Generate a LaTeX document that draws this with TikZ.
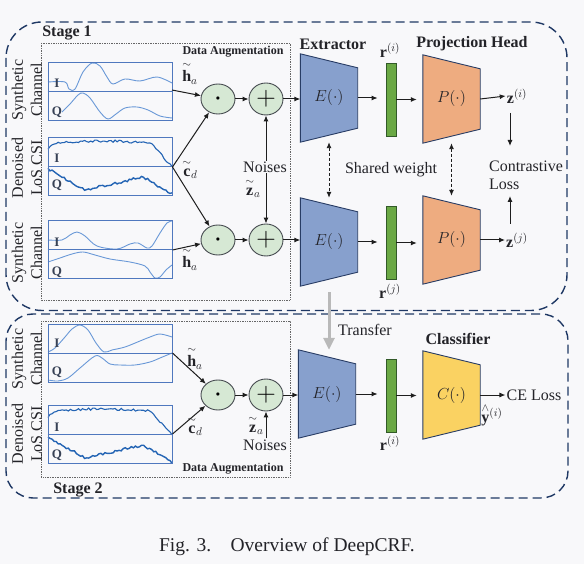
\RequirePackage{fix-cm}
\documentclass[tikz,border=0pt]{standalone}
\usepackage{amsmath}
\usepackage{fontspec}
\setmainfont{Liberation Serif}
\usetikzlibrary{shapes.geometric,arrows.meta,calc}
\definecolor{bgc}{RGB}{248,248,250}
\definecolor{navy}{RGB}{31,56,100}
\definecolor{boxblue}{RGB}{79,120,190}
\definecolor{wave}{RGB}{105,152,215}
\definecolor{wavedark}{RGB}{35,100,180}
\definecolor{extc}{RGB}{135,160,205}
\definecolor{projc}{RGB}{238,172,128}
\definecolor{clsc}{RGB}{250,210,98}
\definecolor{barg}{RGB}{106,168,68}
\definecolor{bargline}{RGB}{50,90,40}
\definecolor{circ}{RGB}{214,232,212}
\definecolor{circline}{RGB}{70,75,80}
\definecolor{trapline}{RGB}{40,60,100}
\definecolor{txtc}{RGB}{35,35,40}
\definecolor{iqc}{RGB}{55,65,85}
\definecolor{arrc}{RGB}{30,30,30}
\newcommand{\trapz}[2]{\draw[draw=trapline, fill=#2, line width=0.9pt] (#1.north west) -- ([yshift=-14pt]#1.north east) -- ([yshift=14pt]#1.south east) -- (#1.south west) -- cycle;}
\newcommand{\tld}[1]{\overset{\sim}{\mathbf{#1}}}
\begin{document}
\begin{tikzpicture}[x=1pt,y=-1pt,
  >={Latex[length=6pt,width=5pt]},
  txt/.style={font=\fontsize{16}{18}\selectfont, text=txtc, inner sep=1pt},
  mlab/.style={font=\fontsize{16}{18}\selectfont, text=txtc, inner sep=0pt},
  bld/.style={font=\bfseries\fontsize{16}{18}\selectfont, text=txtc, inner sep=1pt},
  sig/.style={draw=boxblue, line width=1pt, minimum width=124pt, minimum height=58pt, inner sep=0pt},
  wv/.style={draw=wave, line width=0.9pt},
  wvd/.style={draw=wavedark, line width=1.4pt},
  iq/.style={font=\bfseries\fontsize{13}{13}\selectfont, text=iqc, inner sep=0pt},
  opc/.style={ellipse, draw=circline, fill=circ, line width=0.9pt, minimum width=34pt, minimum height=30pt, inner sep=0pt},
  arr/.style={->, line width=1pt, draw=arrc},
  trbox/.style={inner sep=0pt, minimum width=57pt, minimum height=88pt},
  barbox/.style={draw=bargline, fill=barg, line width=0.8pt, minimum width=10pt, minimum height=73pt, inner sep=0pt},
  stagebox/.style={draw=navy, dash pattern=on 9pt off 5pt, line width=1.4pt},
  augbox/.style={draw=gray!80!black, densely dotted, line width=0.7pt},
  rot/.style={rotate=90, align=center, font=\fontsize{16}{19}\selectfont, text=txtc, inner sep=0pt},
  shared/.style={<->, line width=0.9pt, draw=arrc, dash pattern=on 3pt off 2pt},
  transfer/.style={-{Triangle[length=12pt,width=11pt]}, line width=3pt, draw=gray!55}
]
\fill[bgc] (0,0) rectangle (584,564);
\useasboundingbox (0,0) rectangle (584,564);

% stage frames
\draw[stagebox, rounded corners=36pt] (6,22) rectangle (567,310.5);
\draw[stagebox, rounded corners=27pt] (6,314) rectangle (568,498);
\node[bld] (st1) at (67,33) {Stage 1};
\node[bld] (st2) at (78,490) {Stage 2};

% augmentation frames
\draw[augbox] (41,43) rectangle (290,300);
\draw[augbox] (41,321) rectangle (290,477);
\node[font=\bfseries\fontsize{12}{12}\selectfont, text=txtc, inner sep=0pt] (da1) at (233,52) {Data Augmentation};
\node[font=\bfseries\fontsize{12}{12}\selectfont, text=txtc, inner sep=0pt] (da2) at (233,469) {Data Augmentation};

% waveforms
\draw[wv] plot[smooth, tension=0.55] coordinates {(48,82) (65,82) (69,89) (75,89) (83,72) (92,63) (100,66) (107,77) (113,84) (125,79) (140,81) (157,77) (172,83)};
\draw[wv] plot[smooth, tension=0.55] coordinates {(62,112) (70,104) (78,95) (83,93) (90,98) (100,112) (108,119) (116,114) (125,108) (137,107) (148,110) (160,116) (172,118)};
\draw[wv] plot[smooth, tension=0.55] coordinates {(48,240) (62,240) (70,235) (77,232) (85,236) (97,246) (117,249) (130,244) (138,243) (147,248) (152,246) (160,233) (167,223) (172,221)};
\draw[wv] plot[smooth, tension=0.55] coordinates {(48,262) (60,258) (72,254) (83,252) (95,255) (110,259) (130,262) (145,266) (150,272) (155,278) (160,277) (166,270) (172,265)};
\draw[wv] plot[smooth, tension=0.55] coordinates {(48,352) (55,348) (65,337) (72,329) (80,325) (88,330) (96,343) (104,352) (112,350) (125,347) (140,341) (150,337) (160,334) (172,337)};
\draw[wv] plot[smooth, tension=0.55] coordinates {(48,380) (58,381) (68,378) (80,368) (95,356) (102,358) (110,364) (120,365) (135,365) (150,362) (160,358) (172,353)};
\pgfmathsetseed{7}
\foreach \dy in {0,268}{
\begin{scope}[shift={(0,\dy)}]
\draw[wvd, line width=1.1pt] plot[domain=48:172, samples=62] (\x, {(\x<54 ? 149-(\x-48) : (\x<150 ? 143-2*sin((\x-54)*1.9) : 142+(\x-150)*25/22)) + 1.1*rand});
\draw[wvd] plot[domain=48:172, samples=62] (\x, {(\x<85 ? 169+(\x-48)*21/37 : (\x<143 ? 190-(\x-85)*13/58 : 177+(\x-143)*17/29)) + 1.3*rand});
\end{scope}}

% signal boxes
\node[sig] (sA) at (110,92) {};
\node[sig] (sB) at (110,167) {};
\node[sig] (sC) at (110,250) {};
\node[sig] (sD) at (110,353) {};
\node[sig] (sE) at (110,434) {};
\foreach \b in {sA,sB,sC,sD,sE}{\draw[boxblue, line width=1pt] (\b.west) -- (\b.east);}
\node[iq] (iA) at (57,83) {I};  \node[iq] (qA) at (57,112) {Q};
\node[iq] (iB) at (57,158) {I}; \node[iq] (qB) at (57,185) {Q};
\node[iq] (iC) at (57,242) {I}; \node[iq] (qC) at (57,272) {Q};
\node[iq] (iD) at (57,343) {I}; \node[iq] (qD) at (57,372) {Q};
\node[iq] (iE) at (57,427) {I}; \node[iq] (qE) at (57,455) {Q};

% rotated labels
\node[rot] (l1) at (27,90) {Synthetic\\Channel};
\node[rot] (l2) at (27,168) {Denoised\\LoS CSI};
\node[rot] (l3) at (27,253) {Synthetic\\Channel};
\node[rot] (l4) at (27,359) {Synthetic\\Channel};
\node[rot] (l5) at (27,434) {Denoised\\LoS CSI};

% operation circles
\node[opc] (M1) at (218,99) {\fontsize{8}{8}\selectfont$\bullet$};
\node[opc, minimum height=32pt] (S1) at (266,99) {\fontsize{27}{27}\selectfont$+$};
\node[opc] (M2) at (218,240) {\fontsize{8}{8}\selectfont$\bullet$};
\node[opc, minimum height=32pt] (S2) at (266,240) {\fontsize{27}{27}\selectfont$+$};
\node[opc] (M3) at (218,395) {\fontsize{8}{8}\selectfont$\bullet$};
\node[opc, minimum height=32pt] (S3) at (266,395) {\fontsize{27}{27}\selectfont$+$};

% trapezoids
\node[trbox] (E1) at (329,98) {};
\node[trbox] (P1) at (451.5,99) {};
\node[trbox] (E2) at (329,242) {};
\node[trbox] (P2) at (451.5,240) {};
\node[trbox] (E3) at (327,394) {};
\node[trbox] (C3) at (451.5,395) {};
\trapz{E1}{extc} \trapz{E2}{extc} \trapz{E3}{extc}
\trapz{P1}{projc} \trapz{P2}{projc} \trapz{C3}{clsc}
\node[txt] (E1l) at (E1) {$E(\cdot)$};
\node[txt] (E2l) at (E2) {$E(\cdot)$};
\node[txt] (E3l) at (E3) {$E(\cdot)$};
\node[txt] (P1l) at (P1) {$P(\cdot)$};
\node[txt] (P2l) at (P2) {$P(\cdot)$};
\node[txt] (C3l) at (C3) {$C(\cdot)$};

% bars
\node[barbox] (B1) at (391,99.5) {};
\node[barbox] (B2) at (391,243) {};
\node[barbox] (B3) at (391,395.5) {};

% headers and labels
\node[bld] (ext) at (333,44) {Extractor};
\node[bld] (ph) at (472,44) {Projection Head};
\node[bld] (cls) at (458,339) {Classifier};
\node[txt] (r1) at (390,50) {$\mathbf{r}^{(i)}$};
\node[txt] (r2) at (390,291) {$\mathbf{r}^{(j)}$};
\node[txt] (r3) at (390,443) {$\mathbf{r}^{(i)}$};
\node[txt] (z1) at (517,96) {$\mathbf{z}^{(i)}$};
\node[txt] (z2) at (517,240) {$\mathbf{z}^{(j)}$};
\node[txt, align=left] (CL) at (526,175) {Contrastive\\Loss};
\node[txt] (SW) at (391,170) {Shared weight};
\node[txt] (TR) at (365,330) {Transfer};
\node[txt] (CE) at (534,395) {CE Loss};
\node[mlab] (yh) at (492,415) {$\overset{\wedge}{\mathbf{y}}{}^{(i)}$};
\node[mlab] (h1) at (190,73) {$\tld{h}_a$};
\node[mlab] (c1) at (190,169) {$\tld{c}_d$};
\node[mlab] (h2) at (190,259) {$\tld{h}_a$};
\node[mlab] (h3) at (195,358) {$\tld{h}_a$};
\node[mlab] (c3) at (195,426) {$\tld{c}_d$};

% stage 1 augmentation connectors
\coordinate (Ao) at (172,90);
\draw[arr] (Ao) -- (M1);
\draw[arr] (sB.east) -- (M1);
\draw[arr] (sB.east) -- (M2);
\draw[arr] (sC.east) -- (M2);
\draw[arr] (M1) -- (S1);
\draw[arr] (M2) -- (S2);
\draw[arr] (S1.east) -- (E1.west |- S1.east);
\draw[arr] (S2.east) -- (E2.west |- S2.east);
\draw[arr, <->] (S1) -- (S2);
\node[txt, fill=bgc, inner sep=1pt] (N1) at (265,167) {Noises};
\node[mlab] (za1) at (253,188) {$\tld{z}_a$};

% stage 1 right side
\draw[arr, shorten >=8pt] (E1.east) -- (E1.east -| B1.west);
\draw[arr, shorten >=6pt] (B1.east) -- (B1.east -| P1.west);
\draw[arr] (P1.east) -- (z1.west);
\draw[arr, shorten >=8pt] (E2.east) -- (E2.east -| B2.west);
\draw[arr, shorten >=6pt] (B2.east) -- (B2.east -| P2.west);
\draw[arr] (P2.east) -- (z2.west);
\coordinate (d1s) at (510,113);
\coordinate (d1e) at (510,146);
\coordinate (u1s) at (510,224);
\coordinate (u1e) at (510,196);
\draw[arr] (d1s) -- (d1e);
\draw[arr] (u1s) -- (u1e);
\draw[shared] (E1.south) -- (E2.north);
\draw[shared] (P1.south) -- (P2.north);
\draw[transfer, shorten <=6pt] (E2.south) -- (E2.south |- E3.north);

% stage 2 connectors
\draw[arr] (sD.east) -- (M3);
\draw[arr] (sE.east) -- (M3);
\draw[arr] (M3) -- (S3);
\draw[arr] (S3.east) -- (E3.west |- S3.east);
\node[txt] (N3) at (265,445) {Noises};
\node[mlab] (za3) at (256,425) {$\tld{z}_a$};
\draw[arr] (N3.north -| S3.south) -- (S3.south);
\draw[arr, shorten >=8pt] (E3.east) -- (E3.east -| B3.west);
\draw[arr, shorten >=6pt] (B3.east) -- (B3.east -| C3.west);
\draw[arr] (C3.east) -- (CE.west);

% caption
\node[font=\fontsize{19.5}{22}\selectfont, text=txtc] (cap) at (287,547) {Fig. 3.\quad Overview of DeepCRF.};
\end{tikzpicture}
\end{document}
